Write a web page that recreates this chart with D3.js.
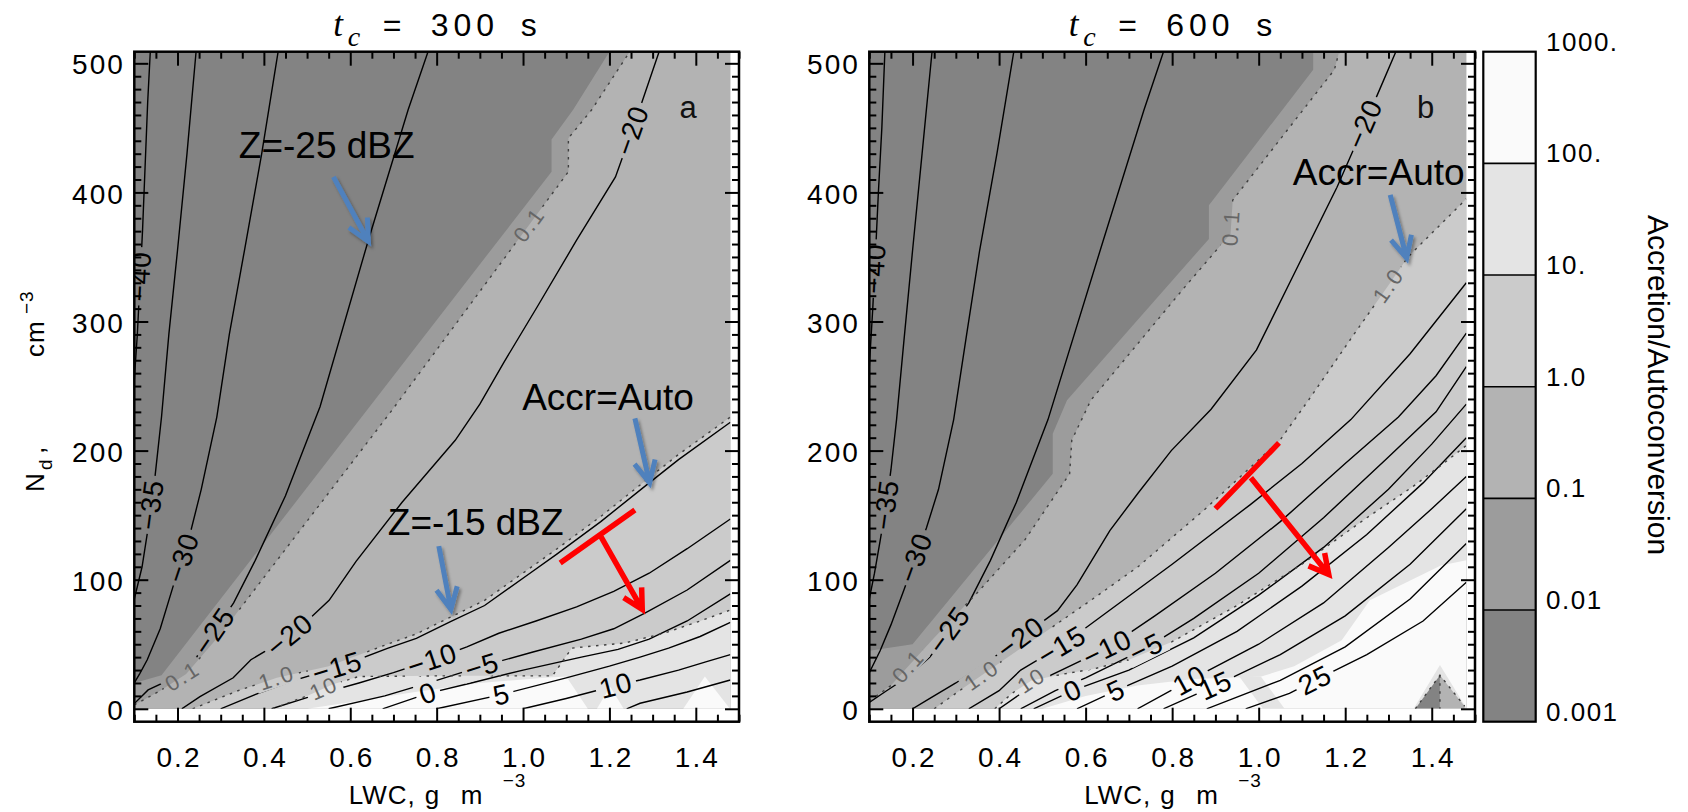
<!DOCTYPE html>
<html><head><meta charset="utf-8">
<script src="https://cdn.jsdelivr.net/npm/d3@7/dist/d3.min.js"></script>
<style>html,body{margin:0;padding:0;background:#fff;} svg{display:block;}</style>
</head><body>
<svg id="chart" width="1688" height="812" xmlns="http://www.w3.org/2000/svg"></svg>
<script>
// ---------------- axes / legend values ----------------
const lwcDomain = [0.1, 1.5];
const ndDomain = [-10, 509];
const dataLwc = [0.1, 1.48];
const dataNd = [0, 509];
const xMajor = [0.2, 0.4, 0.6, 0.8, 1.0, 1.2, 1.4];
const xMajorLabels = ["0.2", "0.4", "0.6", "0.8", "1.0", "1.2", "1.4"];
const yMajor = [0, 100, 200, 300, 400, 500];
const yMajorLabels = ["0", "100", "200", "300", "400", "500"];
const cbLabels = ["0.001", "0.01", "0.1", "1.0", "10.", "100.", "1000."];
const bandColors = ["#838383", "#9c9c9c", "#b3b3b3", "#cbcbcb", "#e4e4e4", "#fafafa"];

// ---------------- panel a (t_c = 300 s) ----------------
const dbzLinesA = [
 ["−40", [[0.137,509],[0.131,470],[0.125,420],[0.119,370],[0.113,330],[0.107,290],[0.1,255]]],
 ["−35", [[0.243,509],[0.222,430],[0.2,355],[0.18,290],[0.163,226],[0.148,180],[0.132,140],[0.118,110],[0.1,85]]],
 ["−30", [[0.433,509],[0.395,430],[0.355,355],[0.32,290],[0.291,226],[0.255,170],[0.225,130],[0.19,95],[0.16,62],[0.13,38],[0.113,27.5],[0.1,20]]],
 ["−25", [[0.78,509],[0.734,464],[0.641,362],[0.53,234],[0.45,165],[0.38,115],[0.33,82],[0.285,60],[0.24,38],[0.2,27],[0.179,22],[0.132,14.6],[0.1,4]]],
 ["−20", [[1.315,509],[1.26,455],[1.214,412],[1.124,363],[1.034,312],[0.955,268],[0.9,236],[0.843,208],[0.72,160],[0.613,114],[0.551,84],[0.5,68],[0.46,57],[0.42,48],[0.37,38],[0.329,24],[0.252,9.4],[0.21,0]]],
 ["−15", [[0.30,0],[0.387,12],[0.47,22],[0.57,32],[0.686,46.8],[0.753,54.6],[0.832,67.5],[0.911,80],[1.012,104],[1.079,120],[1.18,145],[1.292,175],[1.36,193],[1.48,222]]],
 ["−10", [[0.418,0],[0.507,9.4],[0.62,20],[0.7,28],[0.79,38],[0.87,48],[0.944,58.5],[1.03,68],[1.124,79],[1.21,91],[1.292,105],[1.38,124],[1.48,147]]],
 ["−5", [[0.55,0],[0.68,10],[0.8,22],[0.905,33],[1.023,44],[1.135,54],[1.21,62],[1.281,74],[1.38,92],[1.48,115]]],
 ["0", [[0.675,0],[0.78,12],[0.88,20],[1.0,30],[1.135,40],[1.22,46],[1.292,54],[1.38,68],[1.48,89]]],
 ["5", [[0.80,0],[0.95,11],[1.1,24],[1.2,33],[1.271,40],[1.337,47],[1.41,56],[1.48,67]]],
 ["10", [[1.0,0],[1.1,8],[1.215,18],[1.271,22.3],[1.36,30],[1.425,36.5],[1.48,42]]],
 ["15", [[1.24,0],[1.271,4.3],[1.38,13],[1.48,22.3]]]
];
const dbzLabelsA = [["−40",0.114,335],["−35",0.139,158],["−30",0.212,117],["−25",0.285,60],["−20",1.26,447],["−20",0.46,57],["−15",0.57,32],["−10",0.79,38],["−5",0.905,33],["0",0.78,12],["5",0.95,11],["10",1.215,18]];
// ratio boundaries: 0.01, 0.1, 1, 10 (region to the lower right is the higher band)
const ratioBoundsA = [
 [[0.1,20],[0.163,26],[0.638,231],[1.066,416],[1.066,441],[1.116,464],[1.2,509]],
 [[0.1,3],[0.16,14],[0.22,27],[0.3,58],[0.696,231],[1.105,416],[1.105,442],[1.159,464],[1.247,509]],
 [[0.235,0],[0.34,14],[0.43,24],[0.55,33],[0.686,50],[0.753,58],[0.832,71],[0.911,84],[1.012,108],[1.079,124],[1.18,149],[1.292,179],[1.36,197],[1.48,226]],
 [[0.42,0],[0.5,10],[0.56,19],[0.62,25],[0.8,25.5],[1.068,25.5],[1.113,47],[1.236,51],[1.326,58.5],[1.41,68],[1.48,76.5]]
];
const patchesA = [
 [5, [[0.5,0],[0.6,5],[0.75,13],[0.9,20],[1.05,24],[1.10,25],[1.15,0]]],
 [5, [[1.171,0],[1.2017,17],[1.233,0]]],
 [5, [[1.371,0],[1.421,25],[1.479,0]]]
];
const dottedA = [];
const ratioLabelsA = [["0.1",1,1.01,376],["0.1",1,0.21,26],["1.0",2,0.43,24],["10",3,0.54,15]];
const notesA = [["Z=-25 dBZ",0.342,426.6],["Accr=Auto",0.998,231.4],["Z=-15 dBZ",0.687,134.6]];
const blueArrowsA = [[[0.561,412],[0.642,362]],[[1.259,225],[1.293,175]],[[0.805,126],[0.833,77]]];
const redBarA = [[1.086,113],[1.259,154]];
const redStemA = [[1.181,133],[1.276,77]];

// ---------------- panel b (t_c = 600 s) ----------------
const dbzLinesB = [
 ["−40", [[0.136,509],[0.129,450],[0.121,400],[0.114,350],[0.108,310],[0.1,265]]],
 ["−35", [[0.245,509],[0.222,430],[0.2,355],[0.18,285],[0.163,224],[0.15,185],[0.139,158],[0.125,130],[0.112,105],[0.1,85]]],
 ["−30", [[0.434,509],[0.395,430],[0.355,355],[0.325,290],[0.295,224],[0.26,170],[0.232,140],[0.207,117],[0.18,92],[0.15,65],[0.125,45],[0.1,28]]],
 ["−25", [[0.78,509],[0.735,464],[0.64,362],[0.513,224],[0.44,160],[0.38,115],[0.33,82],[0.285,61],[0.24,40],[0.19,25],[0.14,14],[0.1,5]]],
 ["−20", [[1.317,509],[1.28,480],[1.245,453],[1.181,404],[1.082,337],[0.995,278],[0.89,232],[0.798,200],[0.721,167],[0.656,138],[0.58,96],[0.535,76],[0.45,55],[0.38,38],[0.3,20],[0.24,8],[0.2,0]]],
 ["−15", [[0.33,0],[0.40,14],[0.45,30],[0.545,49],[0.65,75],[0.8,112],[0.98,158],[1.1,190],[1.213,224],[1.35,275],[1.48,330]]],
 ["−10", [[0.40,0],[0.46,14],[0.52,26],[0.65,47],[0.76,72],[0.9,105],[1.05,145],[1.2,190],[1.323,226],[1.41,258],[1.48,291]]],
 ["−5", [[0.45,0],[0.53,14],[0.6,24],[0.74,47],[0.85,70],[1.0,105],[1.15,148],[1.3,195],[1.41,230],[1.48,265]]],
 ["0", [[0.48,0],[0.57,14],[0.7,30],[0.85,55],[1.0,88],[1.15,125],[1.3,170],[1.40,205],[1.48,236]]],
 ["5", [[0.58,0],[0.67,14],[0.8,33],[0.95,60],[1.1,95],[1.25,135],[1.38,175],[1.48,210]]],
 ["10", [[0.72,0],[0.84,22],[1.0,50],[1.15,82],[1.3,125],[1.40,155],[1.48,180]]],
 ["15", [[0.78,0],[0.9,18],[1.05,42],[1.2,72],[1.35,112],[1.48,155]]],
 ["20", [[0.88,0],[1.05,22],[1.2,48],[1.35,85],[1.48,128]]],
 ["25", [[0.97,0],[1.071,12],[1.13,22],[1.25,42],[1.38,68],[1.48,98]]]
];
const dbzLabelsB = [["−40",0.112,341],["−35",0.139,158],["−30",0.207,117],["−25",0.285,61],["−20",1.245,453],["−20",0.45,55],["−15",0.545,49],["−10",0.65,47],["−5",0.74,47],["0",0.57,14],["5",0.67,14],["10",0.84,22],["15",0.9,18],["25",1.13,22]];
const ratioBoundsB = [
 [[0.1,45],[0.2,50],[0.524,182],[0.524,213],[0.557,239],[0.885,364],[0.885,390],[1.126,495],[1.126,509]],
 [[0.1,6],[0.15,18],[0.19,33],[0.25,55],[0.35,90],[0.46,131],[0.563,182],[0.568,208],[0.612,239],[0.83,327],[0.935,368],[0.94,394],[1.175,495],[1.186,509]],
 [[0.25,0],[0.3,12],[0.36,26],[0.42,40],[0.5,58],[0.612,84],[0.721,110],[0.874,154],[1.049,208],[1.115,239],[1.22,290],[1.3,328],[1.345,350],[1.48,395]],
 [[0.39,0],[0.43,12],[0.475,22],[0.55,27],[0.62,31],[0.7,38],[0.8,52],[0.95,80],[1.1,112],[1.25,148],[1.356,172],[1.427,190],[1.48,204]],
 [[0.5,0],[0.6,10],[0.72,18],[0.85,23],[1.006,25],[1.082,33],[1.192,53],[1.257,84],[1.421,111],[1.48,115]]
];
const patchesB = [
 [4, [[0.955,25],[1.005,25],[1.06,0],[1.01,0]]],
 [4, [[1.358,0],[1.419,34],[1.481,0]]],
 [0, [[1.362,0],[1.419,26],[1.419,0]]],
 [2, [[1.419,26],[1.476,2],[1.476,0],[1.419,0]]]
];
const dottedB = [[[1.362,0],[1.419,26],[1.476,2]], [[1.419,26],[1.419,0]]];
const ratioLabelsB = [["0.1",1,0.915,373],["0.1",1,0.19,33],["1.0",2,1.3,328],["1.0",2,0.36,26],["10",3,0.475,22]];
const notesB = [["Accr=Auto",1.079,405.7]];
const blueArrowsB = [[[1.304,398],[1.342,349]]];
const redBarB = [[0.9,155],[1.047,206]];
const redStemB = [[0.982,179],[1.162,104]];

const panels = [
 {id:"A", left:134.3, right:739, tc:"300", letter:"a", letterPos:[1.382,458], dbz:dbzLinesA, dbzLabels:dbzLabelsA, bounds:ratioBoundsA, patches:patchesA, dotted:dottedA, ratioLabels:ratioLabelsA, notes:notesA, blue:blueArrowsA, redBar:redBarA, redStem:redStemA},
 {id:"B", left:869.3, right:1475, tc:"600", letter:"b", letterPos:[1.386,458], dbz:dbzLinesB, dbzLabels:dbzLabelsB, bounds:ratioBoundsB, patches:patchesB, dotted:dottedB, ratioLabels:ratioLabelsB, notes:notesB, blue:blueArrowsB, redBar:redBarB, redStem:redStemB}
];

// ---------------- drawing ----------------
const W = 1688, H = 812;
const PT = 51.7, PB = 721.7;
const NUM_FONT = "'Liberation Sans', Arial, sans-serif";
const svg = d3.select("#chart");
const defs = svg.append("defs");
const sh = defs.append("filter").attr("id","shadow").attr("x","-50%").attr("y","-50%").attr("width","200%").attr("height","200%");
sh.append("feDropShadow").attr("dx",2).attr("dy",2.5).attr("stdDeviation",1.6).attr("flood-color","#000").attr("flood-opacity",0.35);

const y = d3.scaleLinear().domain(ndDomain).range([PB, PT]);

function regionPath(b, line) {
  const [x0, x1] = dataLwc, [y0, y1] = dataNd, eps = 1e-6;
  const t = p => {
    if (Math.abs(p[1]-y1) < eps) return (p[0]-x0)/(x1-x0);
    if (Math.abs(p[0]-x1) < eps) return 1 + (y1-p[1])/(y1-y0);
    if (Math.abs(p[1]-y0) < eps) return 2 + (x1-p[0])/(x1-x0);
    return 3 + (p[1]-y0)/(y1-y0);
  };
  const corners = [[x0,y1],[x1,y1],[x1,y0],[x0,y0]];
  const ts = t(b[0]), te = t(b[b.length-1]);
  const target = ts > te ? ts : ts + 4;
  const pts = b.slice();
  for (let k = Math.floor(te) + 1; k < target; k++) pts.push(corners[k % 4]);
  return line(pts) + "Z";
}

function placeLabel(G, mask, pts, anchor, txt, style) {
  let best = null;
  for (let i = 0; i < pts.length - 1; i++) {
    const a = pts[i], b = pts[i+1], dx = b[0]-a[0], dy = b[1]-a[1], L2 = dx*dx + dy*dy;
    if (L2 < 1e-9) continue;
    let u = ((anchor[0]-a[0])*dx + (anchor[1]-a[1])*dy) / L2;
    u = Math.max(0, Math.min(1, u));
    const px = a[0]+u*dx, py = a[1]+u*dy, d = (px-anchor[0])**2 + (py-anchor[1])**2;
    if (!best || d < best.d) best = {d, px, py, ang: Math.atan2(dy, dx)*180/Math.PI};
  }
  let ang = best.ang;
  if (ang > 90) ang -= 180;
  if (ang < -90) ang += 180;
  const tr = `translate(${best.px.toFixed(2)},${best.py.toFixed(2)}) rotate(${ang.toFixed(2)})`;
  const t = G.append("text").attr("transform", tr).attr("text-anchor","middle")
    .attr("dominant-baseline","central").attr("font-family", NUM_FONT)
    .attr("font-size", style.size).attr("fill", style.fill).attr("letter-spacing", style.ls || 0).text(txt);
  const bb = t.node().getBBox();
  mask.append("rect").attr("transform", tr).attr("x", bb.x-4).attr("y", bb.y + bb.height*0.12)
    .attr("width", bb.width+8).attr("height", bb.height*0.76).attr("fill","#000");
}

function blueArrow(G, x, a) {
  const x1 = x(a[0][0]), y1 = y(a[0][1]), x2 = x(a[1][0]), y2 = y(a[1][1]);
  const ang = Math.atan2(y2-y1, x2-x1), hl = 24, ha = 26*Math.PI/180;
  const p = `M${x1},${y1}L${x2},${y2}M${x2-hl*Math.cos(ang-ha)},${y2-hl*Math.sin(ang-ha)}L${x2},${y2}L${x2-hl*Math.cos(ang+ha)},${y2-hl*Math.sin(ang+ha)}`;
  G.append("path").attr("d", p).attr("fill","none").attr("stroke","#4f81bd").attr("stroke-width",5)
    .attr("stroke-linejoin","miter").attr("filter","url(#shadow)");
}

function redT(G, x, bar, stem) {
  const bx1 = x(bar[0][0]), by1 = y(bar[0][1]), bx2 = x(bar[1][0]), by2 = y(bar[1][1]);
  const x1 = x(stem[0][0]), y1 = y(stem[0][1]), x2 = x(stem[1][0]), y2 = y(stem[1][1]);
  const ang = Math.atan2(y2-y1, x2-x1), hl = 22, ha = 28*Math.PI/180;
  const p = `M${bx1},${by1}L${bx2},${by2}M${x1},${y1}L${x2},${y2}M${x2-hl*Math.cos(ang-ha)},${y2-hl*Math.sin(ang-ha)}L${x2},${y2}L${x2-hl*Math.cos(ang+ha)},${y2-hl*Math.sin(ang+ha)}`;
  G.append("path").attr("d", p).attr("fill","none").attr("stroke","#ff0000").attr("stroke-width",5.5).attr("stroke-linejoin","miter");
}

function styleAxis(g, fontSize) {
  g.select(".domain").remove();
  g.attr("font-family", NUM_FONT).attr("font-size", fontSize);
  g.selectAll(".tick line").attr("stroke","#000").attr("stroke-width",2);
  g.selectAll(".tick text").attr("fill","#000").attr("letter-spacing", 2);
}

panels.forEach(P => {
  const x = d3.scaleLinear().domain(lwcDomain).range([P.left, P.right]);
  const line = d3.line().x(d => x(d[0])).y(d => y(d[1]));
  const g = svg.append("g");
  const clipId = "clip" + P.id;
  defs.append("clipPath").attr("id", clipId).append("rect")
    .attr("x", x(dataLwc[0])).attr("y", y(dataNd[1]))
    .attr("width", x(dataLwc[1]) - x(dataLwc[0])).attr("height", y(dataNd[0]) - y(dataNd[1]));

  // filled bands
  const fills = g.append("g").attr("clip-path", `url(#${clipId})`);
  fills.append("rect").attr("x", x(dataLwc[0])).attr("y", y(dataNd[1]))
    .attr("width", x(dataLwc[1]) - x(dataLwc[0])).attr("height", y(dataNd[0]) - y(dataNd[1]))
    .attr("fill", bandColors[0]);
  P.bounds.forEach((b, i) => fills.append("path").attr("d", regionPath(b, line)).attr("fill", bandColors[i+1]));
  P.patches.forEach(([band, poly]) => fills.append("path").attr("d", line(poly) + "Z").attr("fill", bandColors[band]));

  // contour lines with label gaps
  const maskId = "mask" + P.id;
  const mask = defs.append("mask").attr("id", maskId).attr("maskUnits","userSpaceOnUse")
    .attr("x",0).attr("y",0).attr("width",W).attr("height",H);
  mask.append("rect").attr("width",W).attr("height",H).attr("fill","#fff");
  const linesG = g.append("g").attr("clip-path", `url(#${clipId})`).append("g").attr("mask", `url(#${maskId})`);
  P.dbz.forEach(([lev, pts]) => linesG.append("path").attr("d", line(pts)).attr("fill","none")
    .attr("stroke","#000").attr("stroke-width",1.4));
  P.bounds.forEach((b, i) => { if (i >= 1 && i <= 3) linesG.append("path").attr("d", line(b)).attr("fill","none")
    .attr("stroke","#404040").attr("stroke-width",1.4).attr("stroke-dasharray","2.5,5.5"); });
  P.dotted.forEach(d => linesG.append("path").attr("d", line(d)).attr("fill","none")
    .attr("stroke","#404040").attr("stroke-width",1.4).attr("stroke-dasharray","2.5,5.5"));

  const labG = g.append("g").attr("clip-path", `url(#${clipId})`);
  P.dbzLabels.forEach(([txt, L, N]) => {
    const pts = P.dbz.find(d => d[0] === txt)[1].map(d => [x(d[0]), y(d[1])]);
    placeLabel(labG, mask, pts, [x(L), y(N)], txt, {size: 28, fill: "#000", ls: 1});
  });
  P.ratioLabels.forEach(([txt, bi, L, N]) => {
    const pts = P.bounds[bi].map(d => [x(d[0]), y(d[1])]);
    placeLabel(labG, mask, pts, [x(L), y(N)], txt, {size: 22, fill: "#666", ls: 2});
  });

  // frame and axes
  const ax = g.append("g");
  const xMinor = d3.range(0.1, 1.5001, 0.05).filter(v => !xMajor.some(m => Math.abs(m - v) < 1e-6));
  const yMinor = d3.range(0, 501, 10).filter(v => v % 100 !== 0);
  const bot = ax.append("g").attr("transform", `translate(0,${PB})`)
    .call(d3.axisBottom(x).tickValues(xMajor).tickFormat((d, i) => xMajorLabels[i]).tickSizeInner(-14).tickSizeOuter(0).tickPadding(25.5));
  styleAxis(bot, 28);
  bot.selectAll(".tick text").attr("dx", 1);
  styleAxis(ax.append("g").attr("transform", `translate(0,${PB})`)
    .call(d3.axisBottom(x).tickValues(xMinor).tickFormat("").tickSizeInner(-7).tickSizeOuter(0)), 28);
  styleAxis(ax.append("g").attr("transform", `translate(0,${PT})`)
    .call(d3.axisTop(x).tickValues(xMajor).tickFormat("").tickSizeInner(-14).tickSizeOuter(0)), 28);
  styleAxis(ax.append("g").attr("transform", `translate(0,${PT})`)
    .call(d3.axisTop(x).tickValues(xMinor).tickFormat("").tickSizeInner(-7).tickSizeOuter(0)), 28);
  const lft = ax.append("g").attr("transform", `translate(${P.left},0)`)
    .call(d3.axisLeft(y).tickValues(yMajor).tickFormat((d, i) => yMajorLabels[i]).tickSizeInner(-14).tickSizeOuter(0).tickPadding(9.5));
  styleAxis(lft, 28);
  lft.selectAll(".tick text").attr("dy", "0.38em");
  styleAxis(ax.append("g").attr("transform", `translate(${P.left},0)`)
    .call(d3.axisLeft(y).tickValues(yMinor).tickFormat("").tickSizeInner(-7).tickSizeOuter(0)), 28);
  styleAxis(ax.append("g").attr("transform", `translate(${P.right},0)`)
    .call(d3.axisRight(y).tickValues(yMajor).tickFormat("").tickSizeInner(-14).tickSizeOuter(0)), 28);
  styleAxis(ax.append("g").attr("transform", `translate(${P.right},0)`)
    .call(d3.axisRight(y).tickValues(yMinor).tickFormat("").tickSizeInner(-7).tickSizeOuter(0)), 28);
  ax.append("rect").attr("x", P.left).attr("y", PT).attr("width", P.right - P.left).attr("height", PB - PT)
    .attr("fill","none").attr("stroke","#000").attr("stroke-width",2.5);

  // panel letter
  g.append("text").attr("x", x(P.letterPos[0])).attr("y", y(P.letterPos[1])).attr("text-anchor","middle")
    .attr("font-family", NUM_FONT).attr("font-size", 31).attr("fill","#111").text(P.letter);

  // title t_c = ... s
  const cx = (P.left + P.right) / 2;
  const ttl = g.append("g").attr("fill","#000");
  ttl.append("text").attr("x", cx - 103.5).attr("y", 36).attr("font-family","'Liberation Serif', serif")
    .attr("font-style","italic").attr("font-size",35).text("t");
  ttl.append("text").attr("x", cx - 89).attr("y", 46).attr("font-family","'Liberation Serif', serif")
    .attr("font-style","italic").attr("font-size",28).text("c");
  ttl.append("text").attr("x", cx - 54).attr("y", 36).attr("font-family", NUM_FONT).attr("font-size",32).text("=");
  ttl.append("text").attr("x", cx - 6).attr("y", 36).attr("font-family", NUM_FONT).attr("font-size",32)
    .attr("letter-spacing",5).text(P.tc);
  ttl.append("text").attr("x", cx + 84).attr("y", 36).attr("font-family", NUM_FONT).attr("font-size",32).text("s");

  // x axis title: LWC, g m^-3
  const xt = g.append("g").attr("font-family", NUM_FONT).attr("fill","#000");
  xt.append("text").attr("x", cx - 88).attr("y", 804).attr("font-size",26).attr("letter-spacing",1).text("LWC,");
  xt.append("text").attr("x", cx - 12).attr("y", 804).attr("font-size",26).text("g");
  xt.append("text").attr("x", cx + 24).attr("y", 804).attr("font-size",26).attr("letter-spacing",2).text("m");
  xt.append("text").attr("x", cx + 66).attr("y", 787).attr("font-size",19).attr("letter-spacing",1).text("−3");

  // annotations
  const ann = g.append("g");
  P.notes.forEach(([txt, L, N]) => ann.append("text").attr("x", x(L)).attr("y", y(N))
    .attr("font-family","'Liberation Sans', Arial, sans-serif").attr("font-size",37).attr("fill","#000").text(txt));
  P.blue.forEach(a => blueArrow(ann, x, a));
  redT(ann, x, P.redBar, P.redStem);
});

// y axis title (left)
const yt = svg.append("g").attr("transform","translate(44,492) rotate(-90)").attr("font-family", NUM_FONT).attr("fill","#000");
yt.append("text").attr("x",0).attr("y",0).attr("font-size",26).text("N");
yt.append("text").attr("x",22).attr("y",8).attr("font-size",19).text("d");
yt.append("text").attr("x",38).attr("y",0).attr("font-size",26).text(",");
yt.append("text").attr("x",135).attr("y",0).attr("font-size",26).attr("letter-spacing",1).text("cm");
yt.append("text").attr("x",178).attr("y",-11).attr("font-size",19).attr("letter-spacing",1).text("−3");

// colour bar
const cbX0 = 1483.3, cbX1 = 1535.7;
const cb = d3.scaleLinear().domain([0, bandColors.length]).range([PB, PT]);
const cbG = svg.append("g");
bandColors.forEach((c, i) => cbG.append("rect").attr("x", cbX0).attr("y", cb(i+1)).attr("width", cbX1 - cbX0)
  .attr("height", cb(i) - cb(i+1)).attr("fill", c));
d3.range(1, bandColors.length).forEach(i => cbG.append("line").attr("x1", cbX0).attr("x2", cbX1)
  .attr("y1", cb(i)).attr("y2", cb(i)).attr("stroke","#000").attr("stroke-width",1.6));
cbG.append("rect").attr("x", cbX0).attr("y", PT).attr("width", cbX1 - cbX0).attr("height", PB - PT)
  .attr("fill","none").attr("stroke","#000").attr("stroke-width",2.2);
cbLabels.forEach((t, i) => cbG.append("text").attr("x", 1546).attr("y", cb(i) - 1)
  .attr("font-family", NUM_FONT).attr("font-size",26).attr("letter-spacing",1.5).attr("fill","#000").text(t));
svg.append("text").attr("transform","translate(1648,385) rotate(90)").attr("text-anchor","middle")
  .attr("font-family","'Liberation Sans', Arial, sans-serif").attr("font-size",30).attr("fill","#000")
  .text("Accretion/Autoconversion");
</script>
</body></html>
